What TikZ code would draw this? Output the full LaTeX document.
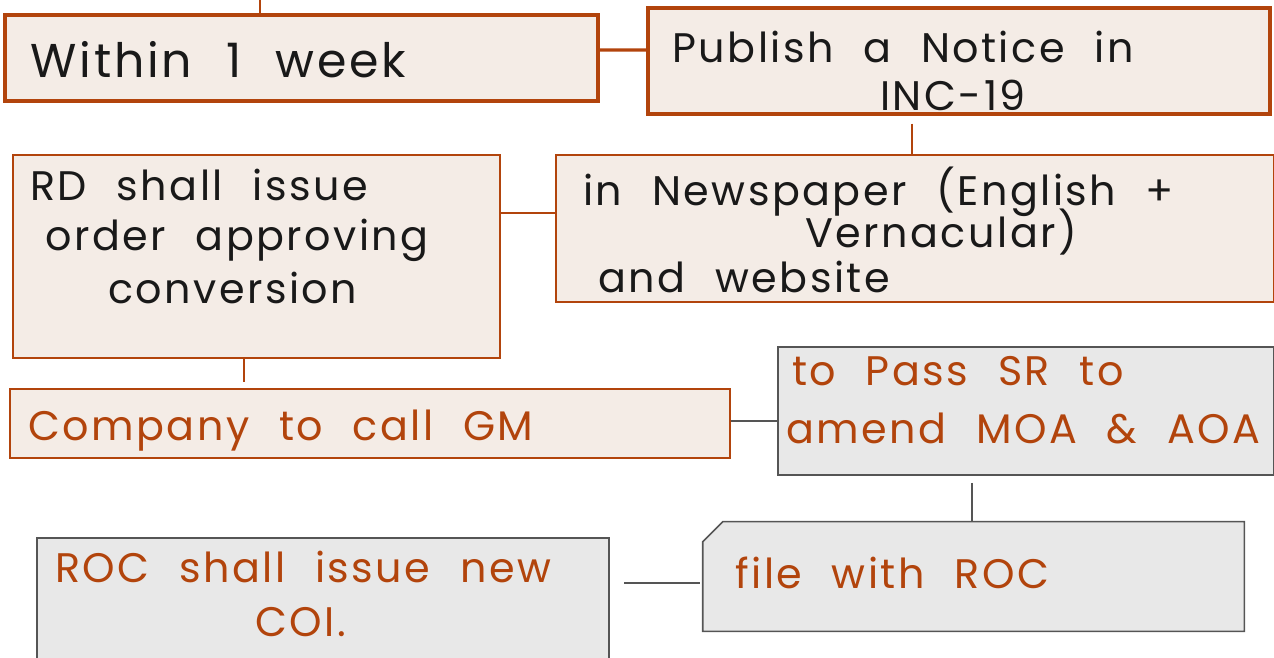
\documentclass[tikz,border=0pt]{standalone}
\usepackage{fontspec}
\setmainfont{Poppins}[LetterSpace=6,WordSpace=2.2]
\definecolor{rust}{RGB}{178,68,12}
\definecolor{cream}{RGB}{244,236,230}
\definecolor{slate}{RGB}{85,85,85}
\definecolor{mist}{RGB}{232,232,232}
\definecolor{ink}{RGB}{25,25,25}
\tikzset{
  card/.style={draw=rust,fill=cream,line width=#1,inner sep=0pt},
  card/.default=0.7pt,
  greycard/.style={draw=slate,fill=mist,line width=0.9pt,inner sep=0pt},
  hand/.style={anchor=base west,inner sep=0pt,font=\fontsize{23.5}{28}\selectfont,text=#1},
  hand/.default=ink,
  link/.style={draw=#1,line width=0.7pt},
  link/.default=slate,
}
\begin{document}
\begin{tikzpicture}[x=0.02cm,y=-0.02cm]
  \useasboundingbox (0,0) rectangle (1274,657);
  \clip (0,0) rectangle (1274,657);
  % boxes
  \node[card=1.8pt,minimum width=11.86cm,minimum height=1.72cm] (week) at (301.5,58) {};
  \node[card=1.8pt,minimum width=12.44cm,minimum height=2.12cm] (notice) at (959,61) {};
  \node[card,minimum width=14.36cm,minimum height=2.94cm] (news) at (915,228.5) {};
  \node[card,minimum width=9.74cm,minimum height=4.06cm] (rd) at (256.5,256.5) {};
  \node[card,minimum width=14.4cm,minimum height=1.38cm] (gm) at (370,423.5) {};
  \node[greycard,minimum width=9.92cm,minimum height=2.56cm] (sr) at (1026,411) {};
  \node[minimum width=10.82cm,minimum height=2.18cm,inner sep=0pt] (file) at (973.5,576.5) {};
  \draw[greycard] ([yshift=-0.4cm]file.north west) -- ([xshift=0.4cm]file.north west)
    -- (file.north east) -- (file.south east) -- (file.south west) -- cycle;
  \node[greycard,minimum width=11.44cm,minimum height=3.24cm] (coi) at (323,619) {};
  % connectors
  \coordinate (above) at (260,-10);
  \draw[link=rust,line width=1.2pt] (week.north -| above) -- (above);
  \draw[link=rust,line width=1.8pt] ([yshift=0.16cm]week.east) -- ([yshift=0.22cm]notice.west);
  \draw[link=rust,line width=1.5pt,shorten <=0.16cm] ([xshift=-0.94cm]notice.south)
    -- ([xshift=-0.94cm]notice.south |- news.north);
  \draw[link=rust] ([yshift=0.87cm]rd.east) -- ([yshift=0.87cm]rd.east -| news.west);
  \draw[link=rust,shorten >=0.12cm] ([xshift=-0.25cm]rd.south) -- ([xshift=-0.25cm]rd.south |- gm.north);
  \draw[link] ([yshift=0.05cm]gm.east) -- ([yshift=0.05cm]gm.east -| sr.west);
  \draw[link,shorten <=0.14cm] ([xshift=-1.08cm]sr.south) -- ([xshift=-1.08cm]sr.south |- file.north);
  \draw[link,shorten <=0.06cm,shorten >=0.28cm] ([yshift=-0.13cm]file.west) -- ([yshift=-0.13cm]file.west -| coi.east);
  % texts
  \node[hand,font=\fontsize{27}{32}\selectfont] (weekT) at (30,77) {Within 1 week};
  \node[hand] (noticeA) at (672,62) {Publish a Notice in};
  \node[hand,anchor=base] (noticeB) at (953,110) {INC-19};
  \node[hand] (newsA) at (583,205) {in Newspaper (English +};
  \node[hand] (newsB) at (805,247) {Vernacular)};
  \node[hand] (newsC) at (598,292) {and website};
  \node[hand] (rdA) at (30,200) {RD shall issue};
  \node[hand] (rdB) at (45,250) {order approving};
  \node[hand] (rdC) at (108,303) {conversion};
  \node[hand=rust] (gmT) at (28,440) {Company to call GM};
  \node[hand=rust] (srA) at (792,385) {to Pass SR to};
  \node[hand=rust] (srB) at (786,443) {amend MOA \& AOA};
  \node[hand=rust] (fileT) at (735,588) {file with ROC};
  \node[hand=rust] (coiA) at (55,582) {ROC shall issue new};
  \node[hand=rust] (coiB) at (255,636) {COI.};
\end{tikzpicture}
\end{document}
